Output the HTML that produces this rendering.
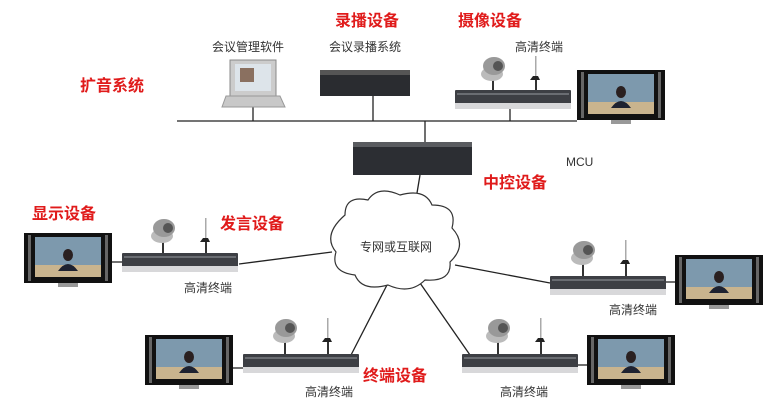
<!DOCTYPE html>
<html><head><meta charset="utf-8"><style>
body{margin:0;background:#fff}
svg{display:block}
.r{fill:#e01b1b;font:bold 16px "Liberation Sans","Noto Sans CJK SC",sans-serif}
.g{fill:#333;font:12px "Liberation Sans","Noto Sans CJK SC",sans-serif}
</style></head><body>
<svg width="764" height="414" viewBox="0 0 764 414" xmlns="http://www.w3.org/2000/svg">
<defs>
<g id="tv">
<rect x="0" y="0" width="88" height="50" fill="#111"/>
<rect x="4" y="2" width="3" height="46" fill="#666"/>
<rect x="81" y="2" width="3" height="46" fill="#666"/>
<rect x="11" y="4" width="66" height="40" fill="#7d99ad"/>
<rect x="11" y="32" width="66" height="12" fill="#c9b48e"/>
<ellipse cx="44" cy="22" rx="5" ry="6" fill="#2a2020"/>
<path d="M34 38 Q44 24 54 38 Z" fill="#1e2230"/>
<rect x="34" y="50" width="20" height="4" fill="#999"/>
</g>
<g id="box">
<rect x="0" y="0" width="116" height="19" fill="#3d3f44" rx="1"/>
<rect x="0" y="13" width="116" height="6" fill="#d8d8da"/>
<rect x="2" y="3" width="112" height="2" fill="#6a6d72"/>
</g>
<g id="cam">
<rect x="14" y="22" width="2" height="14" fill="#333"/>
<ellipse cx="14" cy="18" rx="11" ry="7" fill="#bbb"/>
<ellipse cx="16" cy="10" rx="11" ry="9" fill="#999"/>
<circle cx="20" cy="10" r="5" fill="#555"/>
<rect x="57" y="0" width="1.5" height="22" fill="#aaa"/>
<path d="M52 24 L62 24 L60 20 L55 20 Z" fill="#222"/>
<rect x="57" y="24" width="2" height="12" fill="#333"/>
</g>
</defs>

<!-- lines -->
<g stroke="#222" stroke-width="1.3" fill="none">
<line x1="177" y1="121" x2="577" y2="121"/>
<line x1="253" y1="107" x2="253" y2="121"/>
<line x1="373" y1="96" x2="373" y2="121"/>
<line x1="510" y1="108" x2="510" y2="121"/>
<line x1="425" y1="121" x2="425" y2="142"/>
<line x1="420" y1="175" x2="415" y2="205"/>
<line x1="239" y1="264" x2="332" y2="252"/>
<line x1="455" y1="265" x2="550" y2="283"/>
<line x1="350" y1="357" x2="388" y2="283"/>
<line x1="470" y1="355" x2="420" y2="283"/>
<line x1="112" y1="262" x2="122" y2="262"/>
<line x1="665" y1="282" x2="675" y2="282"/>
<line x1="232" y1="368" x2="243" y2="368"/>
<line x1="578" y1="365" x2="587" y2="365"/>
</g>

<!-- cloud -->
<path d="M345 215 Q345 195 368 200 Q378 185 400 195 Q425 188 432 205 Q458 205 452 228 Q468 245 450 262 Q452 282 425 280 Q410 295 388 285 Q362 292 355 275 Q330 272 336 252 Q322 235 345 215 Z" fill="#fff" stroke="#333" stroke-width="1.2"/>

<!-- laptop -->
<rect x="230" y="60" width="46" height="36" fill="#ccc" stroke="#888"/>
<rect x="235" y="64" width="36" height="27" fill="#dde4ea"/>
<rect x="240" y="68" width="14" height="14" fill="#8a7060"/>
<path d="M226 96 L280 96 L285 107 L222 107 Z" fill="#c8c8c8" stroke="#999"/>
<!-- recorder -->
<rect x="320" y="70" width="90" height="26" fill="#2a2c30"/>
<rect x="320" y="70" width="90" height="5" fill="#555"/>
<!-- MCU -->
<rect x="353" y="142" width="119" height="33" fill="#2c2e33"/>
<rect x="353" y="142" width="119" height="5" fill="#5a5c60"/>

<use href="#cam" x="478" y="56"/>
<use href="#box" x="455" y="90"/>
<use href="#tv" x="577" y="70"/>

<use href="#cam" x="148" y="218"/>
<use href="#box" x="122" y="253"/>
<use href="#tv" x="24" y="233"/>

<use href="#cam" x="568" y="240"/>
<use href="#box" x="550" y="276"/>
<use href="#tv" x="675" y="255"/>

<use href="#cam" x="270" y="318"/>
<use href="#box" x="243" y="354"/>
<use href="#tv" x="145" y="335"/>

<use href="#cam" x="483" y="318"/>
<use href="#box" x="462" y="354"/>
<use href="#tv" x="587" y="335"/>

<!-- labels -->
<text class="r" x="335" y="26">录播设备</text>
<text class="r" x="458" y="26">摄像设备</text>
<text class="r" x="80" y="91">扩音系统</text>
<text class="r" x="483" y="188">中控设备</text>
<text class="r" x="32" y="219">显示设备</text>
<text class="r" x="220" y="229">发言设备</text>
<text class="r" x="363" y="381">终端设备</text>

<text class="g" x="212" y="51">会议管理软件</text>
<text class="g" x="329" y="51">会议录播系统</text>
<text class="g" x="515" y="51">高清终端</text>
<text class="g" x="566" y="166">MCU</text>
<text class="g" x="360" y="251">专网或互联网</text>
<text class="g" x="184" y="292">高清终端</text>
<text class="g" x="609" y="314">高清终端</text>
<text class="g" x="305" y="396">高清终端</text>
<text class="g" x="500" y="396">高清终端</text>
</svg>
</body></html>
